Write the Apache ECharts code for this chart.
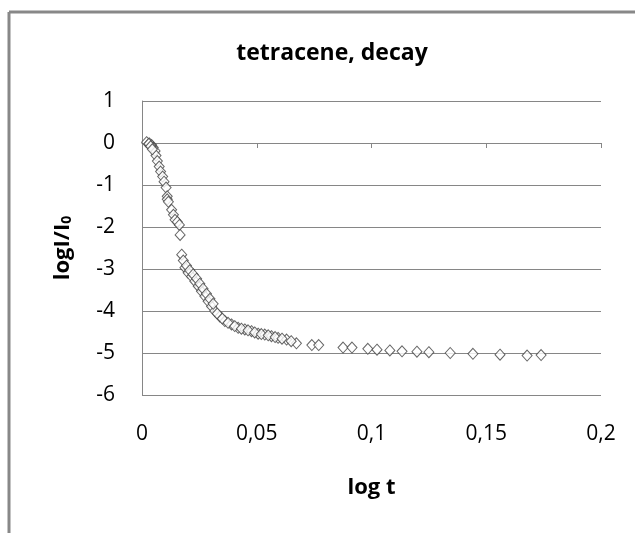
<!DOCTYPE html>
<html>
<head>
<meta charset="utf-8">
<script src="https://cdn.jsdelivr.net/npm/echarts@6/dist/echarts.min.js"></script>
<style>html,body{margin:0;padding:0;background:#fff;}#c{width:635px;height:533px;}</style>
</head>
<body>
<div id="c"></div>
<script>
var xTicks = [0, 0.05, 0.1, 0.15, 0.2];
var yTicks = [-6, -5, -4, -3, -2, -1, 0, 1];
var logT = [
  0.002, 0.0032, 0.0042, 0.0049, 0.0057, 0.0061, 0.0067, 0.0075, 0.0081, 0.009,
  0.0096, 0.0105, 0.011, 0.011, 0.0115, 0.0129, 0.0137, 0.0144, 0.0154, 0.0163,
  0.0166, 0.0173, 0.0187, 0.0201, 0.0216, 0.0230, 0.0245, 0.0259, 0.0274, 0.0288,
  0.0303, 0.0317, 0.0339, 0.0361, 0.0390, 0.0419, 0.0448, 0.0477, 0.0506, 0.0535,
  0.0564, 0.0593, 0.0630, 0.0673, 0.0740, 0.0770, 0.0876, 0.0915, 0.0984, 0.1024,
  0.1080, 0.1133, 0.1198, 0.1250, 0.1343, 0.1442, 0.1560, 0.1678, 0.1739,
  0.0180, 0.0194, 0.0208, 0.0223, 0.0238, 0.0252, 0.0266, 0.0281, 0.0296, 0.0310,
  0.0328, 0.0350, 0.0375, 0.0404, 0.0433, 0.0462, 0.0491, 0.0520, 0.0550, 0.0580,
  0.0610, 0.0650, 0.0030, 0.0038, 0.0045
];
var logI = [
  0.02, -0.01, -0.05, -0.11, -0.19, -0.30, -0.43, -0.56, -0.68, -0.80,
  -0.92, -1.06, -1.27, -1.34, -1.40, -1.59, -1.71, -1.83, -1.88, -1.95,
  -2.19, -2.66, -2.97, -3.09, -3.18, -3.29, -3.41, -3.53, -3.65, -3.77,
  -3.89, -4.00, -4.13, -4.24, -4.32, -4.40, -4.44, -4.48, -4.54, -4.56,
  -4.60, -4.64, -4.68, -4.77, -4.81, -4.81, -4.87, -4.87, -4.90, -4.92,
  -4.94, -4.96, -4.97, -4.98, -5.00, -5.02, -5.04, -5.06, -5.05,
  -2.80, -2.92, -3.03, -3.13, -3.23, -3.35, -3.47, -3.59, -3.71, -3.83,
  -4.06, -4.18, -4.28, -4.36, -4.42, -4.46, -4.51, -4.55, -4.58, -4.62,
  -4.66, -4.72, -0.02, -0.08, -0.15
];
var pts = logT.map(function (t, i) { return [t, logI[i]]; });

var chart = echarts.init(document.getElementById('c'), null, {renderer: 'canvas'});
var font = '"Open Sans", Lato, sans-serif';
chart.setOption({
  animation: false,
  backgroundColor: '#fff',
  title: {
    text: 'tetracene, decay',
    left: 327, top: 37, textAlign: 'center',
    textStyle: {fontFamily: font, fontSize: 23, fontWeight: 'bold', color: '#000'}
  },
  grid: {left: 142, right: 34, top: 101, bottom: 138},
  xAxis: {
    type: 'value', min: 0, max: 0.2, interval: 0.05,
    name: 'log t', nameLocation: 'middle', nameGap: 82,
    nameTextStyle: {fontFamily: font, fontSize: 22, fontWeight: 'bold', color: '#000'},
    axisLine: {show: true, lineStyle: {color: '#868686', width: 1}},
    axisTick: {show: true, length: 5, lineStyle: {color: '#868686'}},
    splitLine: {show: false},
    axisLabel: {
      margin: 29, fontFamily: font, fontSize: 21, color: '#000',
      formatter: function (v) { return String(+v.toFixed(2)).replace('.', ','); }
    }
  },
  yAxis: {
    type: 'value', min: -6, max: 1, interval: 1,
    name: '{a|logI/I}{b|0}', nameLocation: 'middle', nameGap: 68, nameRotate: 90,
    nameTextStyle: {
      rich: {
        a: {fontFamily: font, fontSize: 22, fontWeight: 'bold', color: '#000'},
        b: {fontFamily: font, fontSize: 14, fontWeight: 'bold', color: '#000', verticalAlign: 'bottom', padding: [9, 0, 0, 0]}
      }
    },
    axisLine: {show: true, lineStyle: {color: '#868686', width: 1}},
    axisTick: {show: false},
    splitLine: {show: true, lineStyle: {color: '#868686', width: 1}},
    axisLabel: {margin: 27, fontFamily: font, fontSize: 21, color: '#000'}
  },
  series: [{
    type: 'scatter',
    data: pts,
    symbol: 'diamond',
    symbolSize: [10, 11],
    itemStyle: {color: '#fff', borderColor: '#404040', borderWidth: 1}
  }],
  graphic: [
    {type: 'line', shape: {x1: 9, y1: 12, x2: 635, y2: 12}, style: {stroke: '#888', lineWidth: 3}},
    {type: 'line', shape: {x1: 9, y1: 12, x2: 9, y2: 533}, style: {stroke: '#888', lineWidth: 3}}
  ]
});
</script>
</body>
</html>
